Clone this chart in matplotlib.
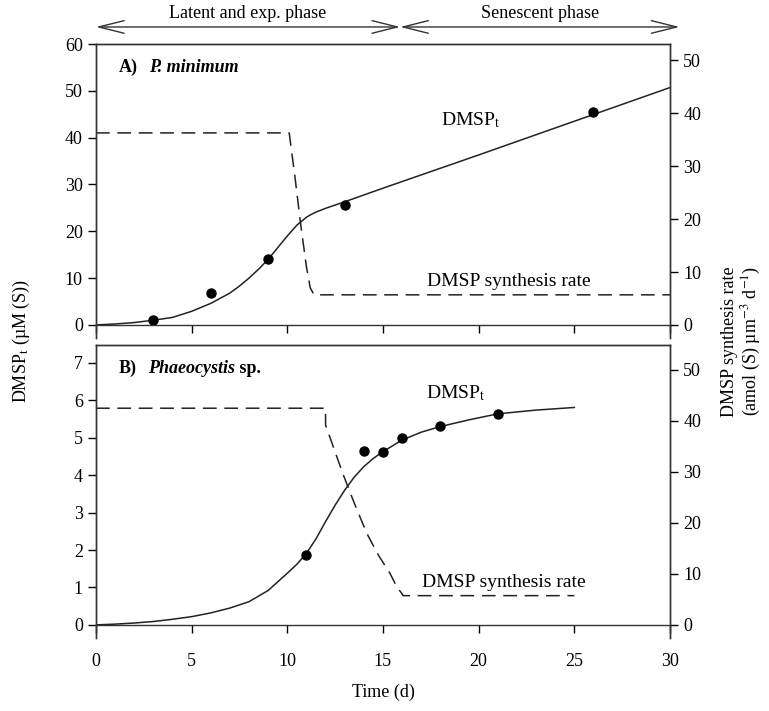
import matplotlib
matplotlib.use("Agg")
import matplotlib.pyplot as plt

# ---------- DATA ----------
# panel A: P. minimum
a_pts_x = [3, 6, 9, 13, 26]
a_pts_y = [1.1, 6.8, 14.0, 25.6, 45.4]
a_fit_x = [0, 1, 2, 3, 4, 5, 6, 7, 7.5, 8, 8.5, 9, 9.5, 10, 10.5, 11, 11.25, 11.5, 11.75, 12, 12.5, 13, 15, 20, 25, 30]
a_fit_y = [0, 0.2, 0.5, 1.0, 1.6, 2.9, 4.6, 6.8, 8.3, 10.0, 11.9, 14.0, 16.5, 19.0, 21.3, 23.0, 23.6, 24.1, 24.5, 24.9, 25.6, 26.3, 29.2, 36.3, 43.5, 50.7]
a_rate_x = [0, 10.1, 10.4, 10.7, 11.0, 11.2, 11.4, 30]
a_rate_y = [36.3, 36.3, 28.0, 19.0, 11.0, 7.0, 5.7, 5.7]

# panel B: Phaeocystis sp.
b_pts_x = [11, 14, 15, 16, 18, 21]
b_pts_y = [1.87, 4.65, 4.61, 4.99, 5.32, 5.64]
b_fit_x = [0, 1, 2, 3, 4, 5, 6, 7, 8, 9, 10, 10.5, 11, 11.5, 12, 12.5, 13, 13.5, 14, 14.5, 15, 16, 17, 18, 19.5, 21, 23, 25]
b_fit_y = [0, 0.02, 0.05, 0.09, 0.15, 0.22, 0.32, 0.45, 0.62, 0.92, 1.38, 1.62, 1.91, 2.3, 2.76, 3.2, 3.6, 3.95, 4.23, 4.45, 4.63, 4.94, 5.15, 5.3, 5.48, 5.64, 5.74, 5.81]
b_rate_x = [0, 12.0, 12.0, 12.9, 13.5, 14.15, 14.76, 15.37, 15.72, 15.98, 16.05, 25]
b_rate_y = [42.5, 42.5, 39.2, 29.7, 23.9, 18.0, 13.7, 10.1, 7.5, 6.2, 5.75, 5.75]

phase_edges = [0, 15.9, 30.5]
phase_names = ["Latent and exp. phase", "Senescent phase"]

# ---------- STYLE ----------
plt.rcParams["font.family"] = ["Liberation Serif", "DejaVu Serif"]
plt.rcParams["mathtext.fontset"] = "stix"
plt.rcParams["font.size"] = 13

fig = plt.figure(figsize=(7.69, 7.11), dpi=100)
ax_a = fig.add_axes([0.1248, 0.5246, 0.7464, 0.4135])
ax_b = fig.add_axes([0.1248, 0.1027, 0.7464, 0.4121])

line_col = "#222222"
dash = (0, (9, 5))


def setup(ax, ylim, yticks, rlim, show_xlabels):
    ax.set_xlim(0, 30)
    ax.set_ylim(*ylim)
    ax.set_yticks(yticks)
    ax.set_xticks(range(0, 31, 5))
    ax.spines["bottom"].set_position(("data", 0))
    ax.tick_params(direction="out", length=6, width=1, labelsize=13)
    if not show_xlabels:
        ax.tick_params(axis="x", labelbottom=False)
    r = ax.twinx()
    r.set_ylim(*rlim)
    r.set_yticks(range(0, 51, 10))
    r.tick_params(direction="out", length=6, width=1, labelsize=13)
    r.spines["bottom"].set_visible(False)
    for a in (ax, r):
        for s in a.spines.values():
            s.set_linewidth(1)
            s.set_color("#333333")
    return r


def panel_title(ax, letter, parts):
    # letter in bold, then pieces with their own style, chained one after another
    prev = ax.text(0.04, 0.95, letter, transform=ax.transAxes, fontsize=13,
                   fontweight="bold", va="top")
    gap = 8
    for txt, style in parts:
        prev = ax.annotate(txt, xy=(1, 1), xycoords=prev, xytext=(gap, 0),
                           textcoords="offset points", va="top", fontsize=13,
                           fontweight="bold", fontstyle=style)
        gap = 0
    return prev


# ---------- PANEL A ----------
ra = setup(ax_a, (-2.8, 60), range(0, 61, 10), (-2.46, 53.1), False)
ax_a.plot(a_fit_x, a_fit_y, color=line_col, lw=1.1)
ax_a.plot(a_pts_x, a_pts_y, "o", color="black", ms=6.5)
ra.plot(a_rate_x, a_rate_y, color=line_col, lw=1.1, linestyle=dash)
panel_title(ax_a, "A)", [("P. minimum", "italic")])
ax_a.text(19.6, 43.8, r"DMSP$_\mathrm{t}$", ha="center", va="center", fontsize=14)
ax_a.text(21.6, 9.3, "DMSP synthesis rate", ha="center", va="center", fontsize=14)

# phase arrows above panel A
for i, name in enumerate(phase_names):
    x0, x1 = phase_edges[i], phase_edges[i + 1]
    ax_a.annotate("", xy=(x0, 1.058), xytext=(x1, 1.058),
                  xycoords=ax_a.get_xaxis_transform(),
                  textcoords=ax_a.get_xaxis_transform(),
                  arrowprops=dict(arrowstyle="<->,head_length=1.4,head_width=0.35",
                                  color="#333333", lw=1, shrinkA=0, shrinkB=0),
                  annotation_clip=False)
    ax_a.text((x0 + x1) / 2, 1.075, name, transform=ax_a.get_xaxis_transform(),
              ha="center", va="bottom", fontsize=13)

# ---------- PANEL B ----------
rb = setup(ax_b, (-0.35, 7.48), range(0, 8), (-2.55, 54.9), True)
ax_b.plot(b_fit_x, b_fit_y, color=line_col, lw=1.1)
ax_b.plot(b_pts_x, b_pts_y, "o", color="black", ms=6.5)
rb.plot(b_rate_x, b_rate_y, color=line_col, lw=1.1, linestyle=dash)
panel_title(ax_b, "B)", [("Phaeocystis", "italic"), (" sp.", "normal")])
ax_b.text(18.8, 6.2, r"DMSP$_\mathrm{t}$", ha="center", va="center", fontsize=14)
ax_b.text(21.3, 1.12, "DMSP synthesis rate", ha="center", va="center", fontsize=14)
ax_b.tick_params(axis="x", pad=14)
ax_b.set_xlabel("Time (d)", fontsize=13, labelpad=10)

# shared y labels
fig.text(0.028, 0.52, r"DMSP$_\mathrm{t}$ (µM (S))", rotation=90, ha="center", va="center", fontsize=13)
fig.text(0.965, 0.52, "DMSP synthesis rate\n(amol (S) µm$^{-3}$ d$^{-1}$)", rotation=90,
         ha="center", va="center", fontsize=13, linespacing=1.1)

fig.savefig("out.png", dpi=100)
